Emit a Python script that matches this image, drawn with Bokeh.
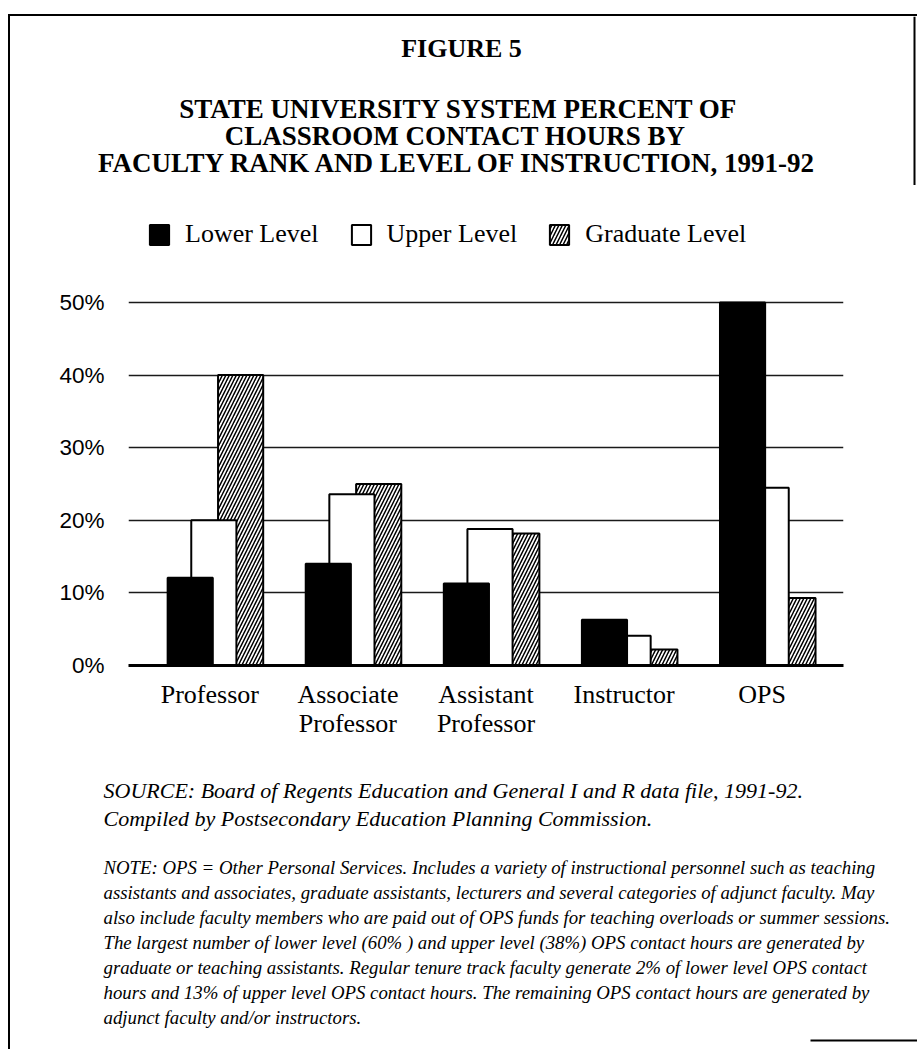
from bokeh.plotting import figure
from bokeh.models import (FactorRange, Range1d, FixedTicker, PrintfTickFormatter,
                          Legend, LegendItem, ColumnDataSource)
from bokeh.transform import dodge
from bokeh.layouts import column
from bokeh.embed import file_html
from bokeh.resources import INLINE
from bokeh.core.properties import value

# ---------------- data ----------------
categories = ["Professor", "Associate\nProfessor", "Assistant\nProfessor", "Instructor", "OPS"]
lower_level = [12.1, 14.0, 11.3, 6.3, 50.0]
upper_level = [20.0, 23.6, 18.8, 4.1, 24.5]
graduate_level = [40.0, 25.0, 18.2, 2.2, 9.3]
series_names = ["Lower Level", "Upper Level", "Graduate Level"]
y_ticks = [0, 10, 20, 30, 40, 50]

figure_label = "FIGURE 5"
title_lines = ["STATE UNIVERSITY SYSTEM PERCENT OF",
               "CLASSROOM CONTACT HOURS  BY",
               "FACULTY RANK AND LEVEL OF INSTRUCTION, 1991-92"]
source_lines = ["SOURCE:  Board of Regents Education and General I and R data file, 1991-92.",
                "Compiled by Postsecondary Education Planning Commission."]
note_lines = [
    "NOTE:  OPS = Other Personal Services.  Includes a variety of instructional personnel such as teaching",
    "assistants and associates, graduate assistants, lecturers and several categories of adjunct faculty.  May",
    "also include faculty members who are paid out of OPS funds for teaching overloads or summer sessions.",
    "The largest number of lower level (60% ) and upper level (38%) OPS contact hours are generated by",
    "graduate or teaching assistants.  Regular tenure track faculty generate 2% of lower level OPS contact",
    "hours and 13% of upper level OPS contact hours.  The remaining OPS contact hours are generated by",
    "adjunct faculty and/or instructors.",
]

SERIF = "Liberation Serif"
SANS = "Liberation Sans"
W = 907


def blank(h):
    f = figure(width=W, height=h, x_range=Range1d(0, W), y_range=Range1d(h, 0),
               output_backend="svg", toolbar_location=None, min_border=0,
               outline_line_color=None, frame_align=False)
    f.axis.visible = False
    f.grid.visible = False
    return f


# ---------------- header ----------------
H1 = 169
header = blank(H1)
header.line([W - 3, W - 3], [0, H1], line_color="black", line_width=2)
header.text(x=[451], y=[32], text=[figure_label], text_font=value(SERIF),
            text_font_style="bold", text_font_size="26px", text_align="center",
            text_baseline="middle", text_color="black")
header.text(x=[448] * 3, y=[92, 119, 146], text=title_lines, text_font=value(SERIF),
            text_font_style="bold", text_font_size="27px", text_align="center",
            text_baseline="middle", text_color="black")

# ---------------- chart ----------------
H2 = 555
src = ColumnDataSource(dict(cat=categories, lower=lower_level, upper=upper_level,
                            grad=graduate_level))
chart = figure(x_range=FactorRange(*categories, range_padding=0.089,
                                   range_padding_units="absolute"),
               y_range=Range1d(0, 66.12), width=W, height=H2,
               output_backend="svg", toolbar_location=None,
               min_border_left=118, min_border_right=74, min_border_top=0,
               min_border_bottom=71, outline_line_color=None, frame_align=False)

bw = 0.327
r_grad = chart.vbar(x=dodge("cat", 0.223, range=chart.x_range), top="grad", width=bw,
                    source=src, fill_color="white", line_color="black", line_width=2,
                    hatch_pattern="/", hatch_color="black", hatch_scale=7, hatch_weight=1.5)
r_upper = chart.vbar(x=dodge("cat", 0.029, range=chart.x_range), top="upper", width=bw,
                     source=src, fill_color="white", line_color="black", line_width=2)
r_lower = chart.vbar(x=dodge("cat", -0.142, range=chart.x_range), top="lower", width=bw,
                     source=src, fill_color="black", line_color="black", line_width=2)

legend = Legend(items=[LegendItem(label=series_names[0], renderers=[r_lower]),
                       LegendItem(label=series_names[1], renderers=[r_upper]),
                       LegendItem(label=series_names[2], renderers=[r_grad])],
                orientation="horizontal", location=(19, 416),
                glyph_width=24, glyph_height=25, label_standoff=14, spacing=30,
                padding=0, margin=0, border_line_color=None, background_fill_alpha=0,
                label_text_font=SERIF, label_text_font_size="26px",
                label_text_color="black")
chart.add_layout(legend)

chart.xgrid.visible = False
chart.ygrid.ticker = FixedTicker(ticks=y_ticks)
chart.ygrid.grid_line_color = "#1a1a1a"
chart.ygrid.grid_line_width = 1.5

chart.yaxis.ticker = FixedTicker(ticks=y_ticks)
chart.yaxis.formatter = PrintfTickFormatter(format="%d%%")
chart.yaxis.axis_line_color = None
chart.yaxis.major_tick_line_color = None
chart.yaxis.minor_tick_line_color = None
chart.yaxis.major_label_standoff = 18
chart.yaxis.major_label_text_font = SANS
chart.yaxis.major_label_text_font_size = "22.5px"
chart.yaxis.major_label_text_color = "black"

chart.xaxis.axis_line_width = 3
chart.xaxis.axis_line_color = "black"
chart.xaxis.major_tick_line_color = None
chart.xaxis.minor_tick_line_color = None
chart.xaxis.major_label_standoff = 8
chart.xaxis.major_label_text_font = SERIF
chart.xaxis.major_label_text_font_size = "26px"
chart.xaxis.major_label_text_color = "black"
chart.xaxis.major_label_text_line_height = 1.0

# ---------------- footer ----------------
H3 = 309
footer = blank(H3)
footer.text(x=[93] * 2, y=[50, 78], text=source_lines, text_font=value(SERIF),
            text_font_style="italic", text_font_size="22px", text_align="left",
            text_baseline="middle", text_color="black")
footer.text(x=[93] * len(note_lines), y=[127 + 25 * i for i in range(len(note_lines))],
            text=note_lines, text_font=value(SERIF), text_font_style="italic",
            text_font_size="18.8px", text_align="left", text_baseline="middle",
            text_color="black")
footer.line([800, W], [300, 300], line_color="black", line_width=2)

layout = column(header, chart, footer, spacing=0,
                styles={"border-left": "2px solid black", "border-top": "2px solid black",
                        "margin-left": "8px", "margin-top": "14px"})

open("out.html", "w").write(file_html(layout, INLINE))
